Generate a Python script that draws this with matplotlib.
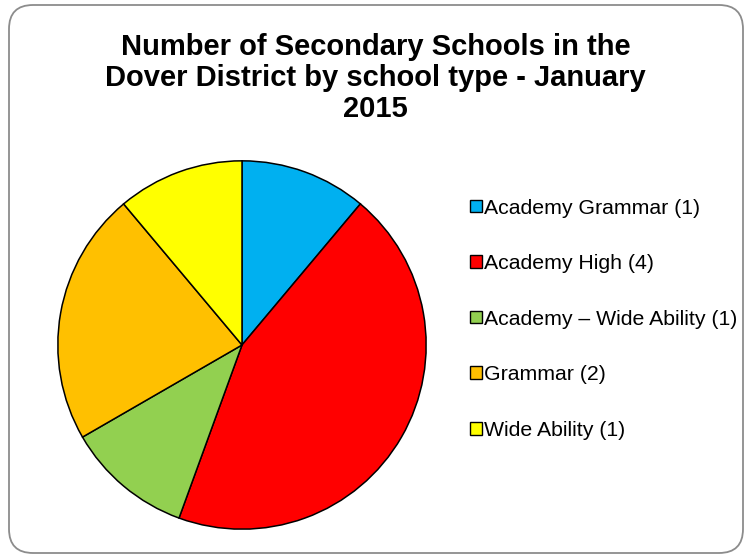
#!/usr/bin/env python3
"""Pie chart of secondary schools in the Dover District by school type."""

import matplotlib

matplotlib.use("Agg")
import matplotlib.pyplot as plt
from matplotlib.patches import FancyBboxPatch, Patch
from matplotlib.transforms import IdentityTransform

school_types = [
    "Academy Grammar (1)",
    "Academy High (4)",
    "Academy \u2013 Wide Ability (1)",
    "Grammar (2)",
    "Wide Ability (1)",
]
school_counts = [1, 4, 1, 2, 1]
slice_colors = ["#00B0F0", "#FF0000", "#92D050", "#FFC000", "#FFFF00"]

plt.rcParams["font.family"] = ["Liberation Sans", "DejaVu Sans"]

W, H = 750, 558
fig = plt.figure(figsize=(W / 100, H / 100), dpi=100)

# rounded chart border, in pixels
border = FancyBboxPatch(
    (9, 5), 734, 548,
    boxstyle="round,pad=0,rounding_size=24",
    transform=IdentityTransform(),
    facecolor="none", edgecolor="#8c8c8c", linewidth=1.3, zorder=-1,
)
fig.add_artist(border)

fig.text(
    375.5 / W, 1 - 33 / H,
    "Number of Secondary Schools in the\nDover District by school type - January\n2015",
    ha="center", va="top", fontsize=21, fontweight="bold", linespacing=1.13,
)

cx, cy, r = 242, 345, 186
ax = fig.add_axes([(cx - r) / W, 1 - (cy + r) / H, 2 * r / W, 2 * r / H])
ax.pie(
    school_counts,
    colors=slice_colors,
    startangle=90,
    counterclock=False,
    wedgeprops={"edgecolor": "black", "linewidth": 1.1},
)
ax.set_xlim(-1.01, 1.01)
ax.set_ylim(-1.01, 1.01)
ax.axis("off")

handles = [Patch(facecolor=c, edgecolor="black", linewidth=1.0) for c in slice_colors]
fig.legend(
    handles, school_types,
    loc="upper left", bbox_to_anchor=(470 / W, 1 - 198.5 / H),
    frameon=False, fontsize=15.3,
    handlelength=0.55, handleheight=0.55, handletextpad=0.12,
    labelspacing=1.72, borderaxespad=0, borderpad=0,
)

fig.savefig("out.png", dpi=100)
plt.close(fig)
